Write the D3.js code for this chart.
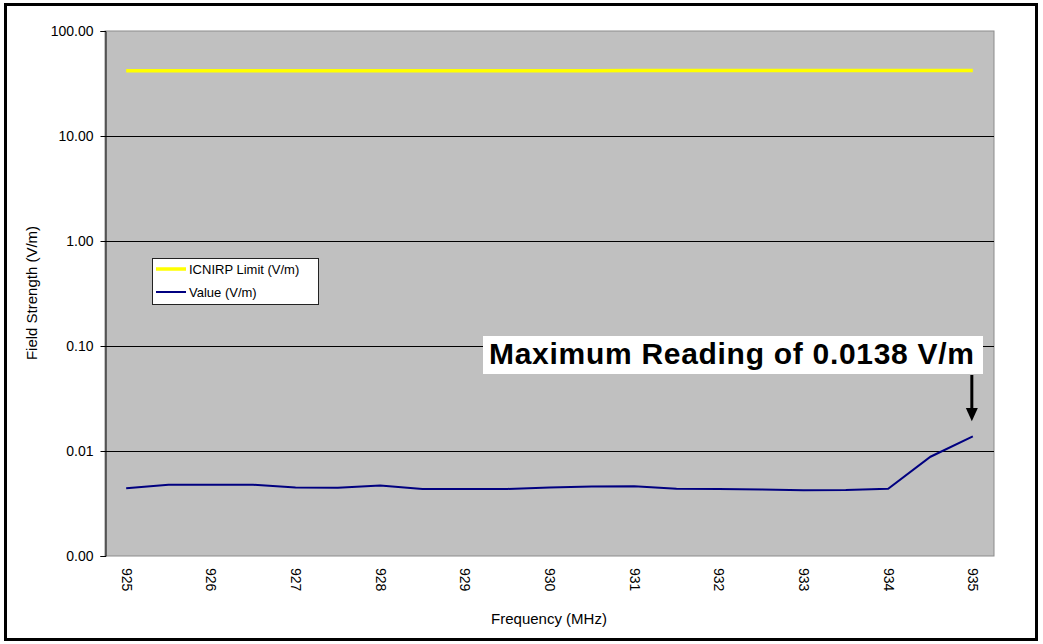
<!DOCTYPE html>
<html><head><meta charset="utf-8">
<script src="https://cdn.jsdelivr.net/npm/d3@7"></script>
<style>body{margin:0;background:#fff}svg{display:block}text{font-family:Arial,"Liberation Sans",sans-serif}</style>
</head><body>
<svg id="c" width="1043" height="644"></svg>
<script>
const frequencies = [925,925.5,926,926.5,927,927.5,928,928.5,929,929.5,930,930.5,931,931.5,932,932.5,933,933.5,934,934.5,935];
const icnirpLimit = [41.82,41.83,41.84,41.85,41.86,41.87,41.88,41.89,41.9,41.91,41.92,41.93,41.94,41.95,41.96,41.97,41.98,41.99,42.0,42.02,42.04];
const measured = [0.00441,0.00477,0.00477,0.00477,0.00449,0.00447,0.00469,0.00435,0.00435,0.00435,0.00449,0.00459,0.00461,0.00437,0.00435,0.0043,0.00422,0.00425,0.00437,0.00882,0.0138];
const yTicks = [0.001,0.01,0.1,1,10,100];
const xLabels = ["925","926","927","928","929","930","931","932","933","934","935"];
const seriesNames = ["ICNIRP Limit (V/m)","Value (V/m)"];
const annotationText = "Maximum Reading of 0.0138 V/m";

const svg = d3.select("#c");
const L=105,R=994,T=31,B=556;
svg.append("rect").attr("x",5.5).attr("y",4.5).attr("width",1031).attr("height",635).attr("fill","#fff").attr("stroke","#000").attr("stroke-width",3);

const x = d3.scalePoint().domain(frequencies.map(String)).range([L,R]).padding(0.5);
const y = d3.scaleLog().domain([0.001,100]).range([B,T]);

svg.append("rect").attr("x",L).attr("y",T).attr("width",R-L).attr("height",B-T).attr("fill","#C0C0C0").attr("stroke","#8c8c8c").attr("stroke-width",1);

// gridlines
svg.append("g").selectAll("line").data(yTicks.slice(1,-1)).join("line")
  .attr("x1",L).attr("x2",R).attr("y1",d=>Math.round(y(d))+0.5).attr("y2",d=>Math.round(y(d))+0.5)
  .attr("stroke","#000").attr("stroke-width",1);

// y axis
const ya = svg.append("g").attr("transform",`translate(${L+0.5},0)`)
  .call(d3.axisLeft(y).tickValues(yTicks).tickFormat(d3.format(".2f")).tickSize(5).tickPadding(7));
ya.select(".domain").attr("stroke","#000");
ya.selectAll(".tick line").attr("stroke","#000");
ya.selectAll(".tick text").attr("font-size","14px").attr("fill","#000").style("font-family","Arial, 'Liberation Sans', sans-serif");

// x axis labels
const xa = svg.append("g").attr("transform",`translate(0,${B})`)
  .call(d3.axisBottom(x).tickValues(xLabels).tickSize(0).tickPadding(0));
xa.select(".domain").remove();
xa.selectAll(".tick text").attr("font-size","14px").attr("fill","#000")
  .style("font-family","Arial, 'Liberation Sans', sans-serif")
  .attr("transform","rotate(90)").attr("text-anchor","start").attr("x",12).attr("y",0).attr("dy","0.35em");

// axis titles
svg.append("text").attr("x",549).attr("y",624).attr("text-anchor","middle").attr("font-size","15px").text("Frequency (MHz)");
svg.append("text").attr("transform","translate(37,293) rotate(-90)").attr("text-anchor","middle").attr("font-size","15px").text("Field Strength (V/m)");

// lines
const lineGen = arr => d3.line().x((d,i)=>x(String(frequencies[i]))).y(d=>y(d))(arr);
svg.append("path").attr("d",lineGen(icnirpLimit)).attr("fill","none").attr("stroke","#FFFF00").attr("stroke-width",3.5);
svg.append("path").attr("d",lineGen(measured)).attr("fill","none").attr("stroke","#000080").attr("stroke-width",2);

// legend
const lg = svg.append("g");
lg.append("rect").attr("x",152.5).attr("y",258.5).attr("width",166).attr("height",46).attr("fill","#fff").attr("stroke","#222").attr("stroke-width",1);
const legendColors = ["#FFFF00","#000080"], legendWidths=[3.5,2];
seriesNames.forEach((n,i)=>{
  const yy = 269 + i*23;
  lg.append("line").attr("x1",156).attr("x2",186).attr("y1",yy).attr("y2",yy).attr("stroke",legendColors[i]).attr("stroke-width",legendWidths[i]);
  lg.append("text").attr("x",189).attr("y",yy).attr("dy","0.35em").attr("font-size","13px").text(n);
});

// annotation
const lastI = frequencies.length-1;
const ax = x(String(frequencies[lastI]));
svg.append("rect").attr("x",483).attr("y",336).attr("width",500).attr("height",38).attr("fill","#fff");
svg.append("text").attr("x",489).attr("y",364).attr("font-size","30px").attr("font-weight","bold").attr("textLength",485).text(annotationText);
svg.append("line").attr("x1",ax-1).attr("x2",ax-1).attr("y1",375).attr("y2",409).attr("stroke","#000").attr("stroke-width",3);
const tipY = y(measured[lastI]) - 15;
svg.append("path").attr("d",`M${ax-7},408 L${ax+5},408 L${ax-1},${tipY} Z`).attr("fill","#000");
</script>
</body></html>
